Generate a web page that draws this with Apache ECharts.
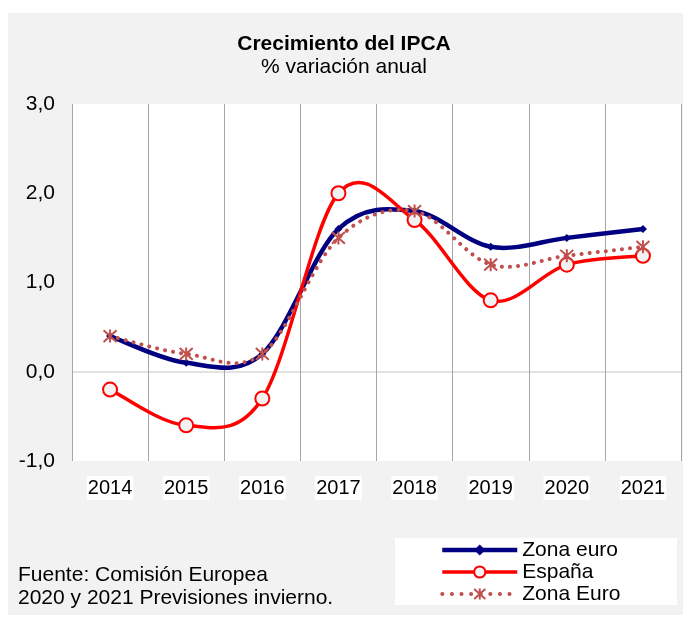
<!DOCTYPE html>
<html>
<head>
<meta charset="utf-8">
<script src="https://cdn.jsdelivr.net/npm/echarts@6/dist/echarts.min.js"></script>
<style>
html,body{margin:0;padding:0;background:#fff;}
#c{width:688px;height:617px;}
</style>
</head>
<body>
<div id="c"></div>
<script>
const categories = ['2014','2015','2016','2017','2018','2019','2020','2021'];
const zonaEuro = [0.4, 0.1, 0.2, 1.6, 1.8, 1.4, 1.5, 1.6];
const espana = [-0.2, -0.6, -0.3, 2.0, 1.7, 0.8, 1.2, 1.3];
const zonaEuro2 = [0.4, 0.2, 0.2, 1.5, 1.8, 1.2, 1.3, 1.4];
const yTicks = [-1, 0, 1, 2, 3];
const titleText = 'Crecimiento del IPCA';
const subtitleText = '% variación anual';
const sourceLines = ['Fuente: Comisión Europea', '2020 y 2021 Previsiones invierno.'];

const FONT = '"Liberation Sans", Arial, sans-serif';
const chart = echarts.init(document.getElementById('c'), null, {renderer: 'canvas'});
const star = 'path://M0,-5L0,5M-4.5,-4.5L4.5,4.5M-4.5,4.5L4.5,-4.5';

// Excel-like smoothed curve (Catmull-Rom, tension 1/6) through axis coordinates
function smoothPath(api, values) {
  const p = values.map((v, i) => api.coord([i, v]));
  let d = 'M' + p[0][0] + ' ' + p[0][1];
  for (let i = 0; i < p.length - 1; i++) {
    const p0 = p[i - 1] || p[i], p1 = p[i], p2 = p[i + 1], p3 = p[i + 2] || p[i + 1];
    const c1x = p1[0] + (p2[0] - p0[0]) / 6, c1y = p1[1] + (p2[1] - p0[1]) / 6;
    const c2x = p2[0] - (p3[0] - p1[0]) / 6, c2y = p2[1] - (p3[1] - p1[1]) / 6;
    d += 'C' + c1x + ' ' + c1y + ' ' + c2x + ' ' + c2y + ' ' + p2[0] + ' ' + p2[1];
  }
  return d;
}
function curveSeries(id, values, style) {
  return {
    id: id, type: 'custom', coordinateSystem: 'cartesian2d', z: 2, silent: true,
    data: [[0, values[0]]],
    encode: {x: 0, y: 1},
    renderItem: function (params, api) {
      return {type: 'path', shape: {pathData: smoothPath(api, values)},
        style: Object.assign({fill: 'none'}, style)};
    }
  };
}

chart.setOption({
  animation: false,
  textStyle: {fontFamily: FONT},
  graphic: [
    {type: 'rect', z: -10, silent: true, shape: {x: 8, y: 13, width: 675, height: 602}, style: {fill: '#f2f2f2'}},
    {type: 'rect', z: -5, silent: true, shape: {x: 395, y: 538, width: 282, height: 67}, style: {fill: '#ffffff'}},
    {type: 'text', left: 18, top: 565, style: {text: sourceLines[0], font: '21px ' + FONT, fill: '#000'}},
    {type: 'text', left: 18, top: 588, style: {text: sourceLines[1], font: '21px ' + FONT, fill: '#000'}}
  ],
  title: {
    text: titleText,
    subtext: subtitleText,
    left: 'center',
    top: 33,
    itemGap: 0,
    padding: 0,
    textStyle: {fontFamily: FONT, fontSize: 21, fontWeight: 'bold', color: '#000', lineHeight: 23},
    subtextStyle: {fontFamily: FONT, fontSize: 21, color: '#000', lineHeight: 23}
  },
  legend: {
    orient: 'vertical',
    left: 440,
    top: 539,
    itemWidth: 75,
    itemHeight: 14,
    itemGap: 0,
    padding: 0,
    textStyle: {fontFamily: FONT, fontSize: 21, color: '#000', lineHeight: 22},
    data: [
      {name: 'Zona euro', lineStyle: {opacity: 1, width: 4.5}},
      {name: 'España', lineStyle: {opacity: 1, width: 3.5}},
      {name: 'Zona Euro', lineStyle: {opacity: 1, width: 4, type: [0.1, 9.5], cap: 'round'}}
    ]
  },
  grid: {left: 72, right: 7, top: 104, bottom: 156, show: true, backgroundColor: '#fff', borderWidth: 0},
  xAxis: {
    type: 'category',
    data: categories,
    boundaryGap: true,
    axisLine: {show: false},
    axisTick: {show: false},
    splitLine: {show: true, lineStyle: {color: '#a6a6a6', width: 1}},
    axisLabel: {fontSize: 20, color: '#000', margin: 15, backgroundColor: '#fff', padding: [2, 1, 2, 1], lineHeight: 20}
  },
  yAxis: {
    type: 'value',
    min: yTicks[0],
    max: yTicks[yTicks.length - 1],
    interval: 1,
    axisLine: {show: false},
    axisTick: {show: false},
    splitLine: {show: true, lineStyle: {color: ['rgba(0,0,0,0)', '#d9d9d9', 'rgba(0,0,0,0)', 'rgba(0,0,0,0)', 'rgba(0,0,0,0)'], width: 1.5}},
    axisLabel: {fontSize: 21, color: '#000', margin: 17, formatter: v => v.toFixed(1).replace('.', ',')}
  },
  series: [
    curveSeries('c1', zonaEuro, {stroke: '#000080', lineWidth: 4.5}),
    curveSeries('c2', espana, {stroke: '#ff0000', lineWidth: 3.5}),
    curveSeries('c3', zonaEuro2, {stroke: '#c0504d', lineWidth: 4, lineDash: [0.1, 8], lineCap: 'round'}),
    {
      name: 'Zona euro', type: 'line', data: zonaEuro,
      symbol: 'diamond', symbolSize: 8, z: 3,
      lineStyle: {color: '#000080', width: 4, opacity: 0},
      itemStyle: {color: '#000080'}
    },
    {
      name: 'España', type: 'line', data: espana,
      symbol: 'circle', symbolSize: 14, z: 4,
      lineStyle: {color: '#ff0000', width: 3, opacity: 0},
      itemStyle: {color: '#f2f2f2', borderColor: '#ff0000', borderWidth: 2}
    },
    {
      name: 'Zona Euro', type: 'line', data: zonaEuro2,
      symbol: star, symbolSize: 13, z: 5,
      lineStyle: {color: '#c0504d', width: 3.5, opacity: 0},
      itemStyle: {color: 'rgba(0,0,0,0)', borderColor: '#c0504d', borderWidth: 2}
    }
  ]
});
</script>
</body>
</html>
